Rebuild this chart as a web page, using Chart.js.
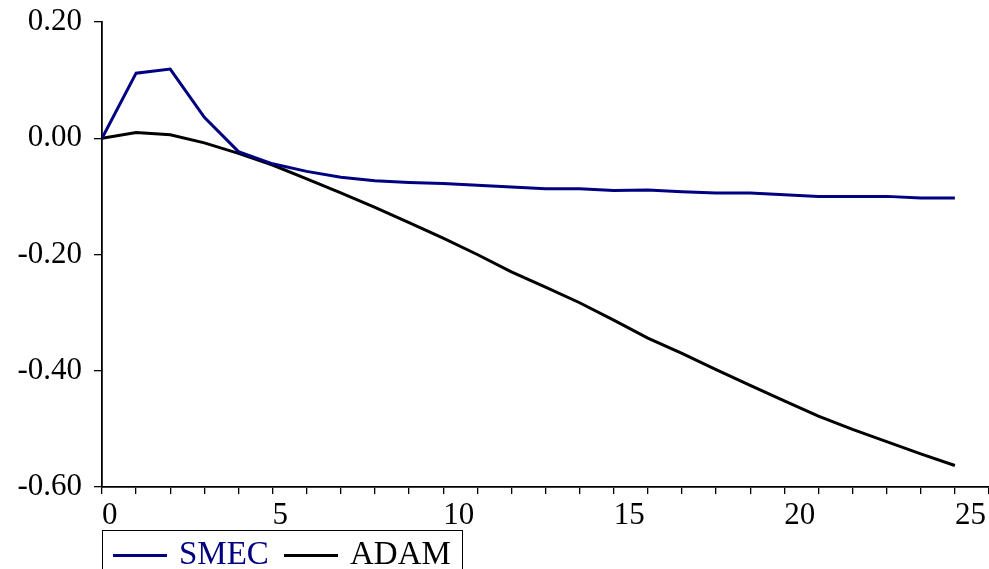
<!DOCTYPE html>
<html>
<head>
<meta charset="utf-8">
<script src="https://cdn.jsdelivr.net/npm/chart.js@4.4.1/dist/chart.umd.min.js"></script>
<style>
  html, body { margin: 0; padding: 0; background: #fff; }
  #wrap { position: relative; width: 989px; height: 569px; }
  #legend {
    position: absolute; left: 102px; top: 530px; width: 361px; height: 60px;
    border: 1.5px solid #000; border-bottom: none; box-sizing: border-box;
    font-family: "Liberation Serif", serif; font-size: 33px; white-space: nowrap;
  }
  #legend .item { position: absolute; top: 3px; line-height: 38px; }
  #legend .swatch { display: inline-block; width: 54px; height: 3px; vertical-align: middle; margin-right: 12px; position: relative; top: -1px; }
</style>
</head>
<body>
<div id="wrap">
  <canvas id="irf" width="989" height="569"></canvas>
  <div id="legend"></div>
</div>
<script>
const steps = [0, 1, 2, 3, 4, 5, 6, 7, 8, 9, 10, 11, 12, 13, 14, 15, 16, 17, 18, 19, 20, 21, 22, 23, 24, 25]
const smec = [0, 0.112, 0.119, 0.036, -0.023, -0.044, -0.057, -0.067, -0.073, -0.076, -0.078, -0.081, -0.084,
  -0.087, -0.087, -0.090, -0.089, -0.092, -0.094, -0.094, -0.097, -0.100, -0.100, -0.100, -0.103, -0.103]
const adam = [0, 0.010, 0.006, -0.008, -0.026, -0.046, -0.070, -0.094, -0.119, -0.145, -0.172, -0.200, -0.230,
  -0.256, -0.283, -0.313, -0.344, -0.370, -0.398, -0.425, -0.452, -0.478, -0.501, -0.522, -0.543, -0.563]
const seriesNames = ["SMEC", "ADAM"]
const seriesColors = ["#000080", "#000000"]

const font = { family: "'Liberation Serif', 'Times New Roman', serif", size: 31 }

const toPoints = (vals) => vals.map((v, i) => ({ x: steps[i], y: v }))

new Chart(document.querySelector("#irf"), {
  type: "line",
  data: {
    datasets: [smec, adam].map((vals, i) => ({
      label: seriesNames[i],
      data: toPoints(vals),
      borderColor: seriesColors[i],
      borderWidth: 3,
      pointRadius: 0,
      tension: 0,
      fill: false,
    })),
  },
  options: {
    responsive: false,
    animation: false,
    layout: { padding: { top: 22, right: 0, left: 0, bottom: 0 } },
    plugins: { legend: { display: false }, tooltip: { enabled: false } },
    scales: {
      x: {
        type: "linear",
        min: 0,
        max: 26,
        afterFit: (scale) => {
          scale.height = 82
          scale.paddingRight = 0
        },
        border: { color: "#000", width: 1.8 },
        grid: { drawOnChartArea: false, color: "#000", lineWidth: 1.3, tickLength: 7 },
        ticks: {
          stepSize: 1,
          autoSkip: false,
          maxRotation: 0,
          align: "start",
          padding: 3,
          color: "#000",
          font: font,
          callback: (v) => (v % 5 === 0 && v <= 25 ? String(v) : ""),
        },
      },
      y: {
        min: -0.6,
        max: 0.2,
        afterFit: (scale) => {
          scale.width = 102
          scale.paddingTop = 0
        },
        border: { color: "#000", width: 1.8 },
        grid: { drawOnChartArea: false, color: "#000", lineWidth: 1.3, tickLength: 8 },
        ticks: {
          stepSize: 0.2,
          padding: 12,
          color: "#000",
          font: font,
          callback: (v) => (Math.abs(v) < 1e-9 ? 0 : v).toFixed(2),
        },
      },
    },
  },
})

// legend box drawn as html below the axis
const legend = document.querySelector("#legend")
const lefts = [10, 181]
seriesNames.forEach((name, i) => {
  const item = document.createElement("span")
  item.className = "item"
  item.style.left = lefts[i] + "px"
  item.style.color = seriesColors[i]
  item.innerHTML = `<span class="swatch" style="background:${seriesColors[i]}"></span>${name}`
  legend.appendChild(item)
})
</script>
</body>
</html>
